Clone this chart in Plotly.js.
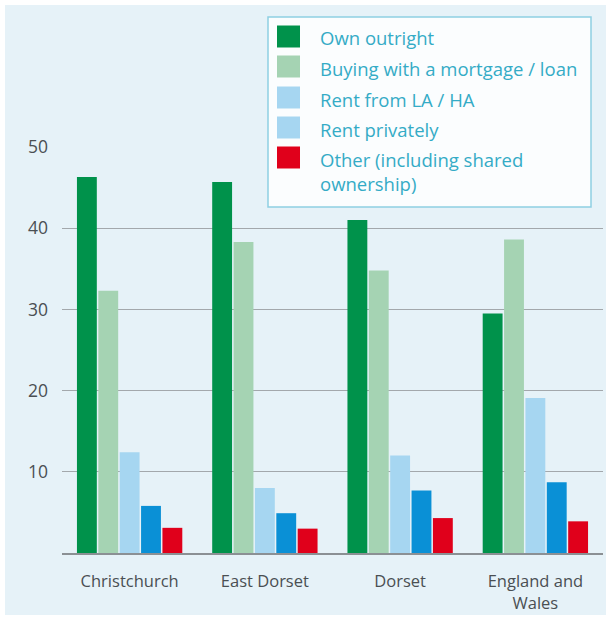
<!DOCTYPE html>
<html>
<head>
<meta charset="utf-8">
<script src="https://cdn.plot.ly/plotly-3.0.1.min.js"></script>
<style>
html,body{margin:0;padding:0;background:#ffffff;}
#chart{width:606px;height:617px;background:#e6f2f8;box-shadow:inset 5px 5px 0 #ffffff, inset 0 -2px 0 #ffffff;}
</style>
</head>
<body>
<div id="chart"></div>
<script>
// ---- data ----
const categories = ["Christchurch", "East Dorset", "Dorset", "England and<br>Wales"];
const seriesNames = ["Own outright", "Buying with a mortgage / loan", "Rent from LA / HA", "Rent privately", "Other (including shared<br>ownership)"];
const ownOutright = [46.3, 45.7, 41.0, 29.5];
const mortgage    = [32.3, 38.3, 34.8, 38.6];
const rentLA      = [12.4, 8.0, 12.0, 19.1];
const rentPrivate = [5.8, 4.9, 7.7, 8.7];
const other       = [3.1, 3.0, 4.3, 3.9];
const yTicks = [10, 20, 30, 40, 50];

const seriesValues = [ownOutright, mortgage, rentLA, rentPrivate, other];
const barColors = ["#00924b", "#a5d3b3", "#a6d6f1", "#0a90d6", "#e0001b"];
const legendColors = ["#00924b", "#a5d3b3", "#a6d6f1", "#a6d6f1", "#e0001b"];

const FONT = "Open Sans, Noto Sans, sans-serif";
const W = 606, H = 617;
const M = {l: 62, r: 3, t: 147, b: 64};
const pw = W - M.l - M.r, ph = H - M.t - M.b;
const px = p => (p - M.l) / pw;
const py = p => (H - M.b - p) / ph;

const traces = seriesValues.map((vals, i) => ({
  type: "bar",
  name: seriesNames[i],
  x: categories,
  y: vals,
  marker: {color: barColors[i], line: {width: 0}},
  showlegend: false,
  hoverinfo: "skip"
}));

// custom legend box (to reproduce the large square swatches)
const shapes = [{
  type: "rect", xref: "paper", yref: "paper",
  x0: px(268), x1: px(591), y0: py(207), y1: py(17),
  fillcolor: "#fbfdfe", line: {color: "#8fd0e2", width: 1.5}, layer: "above"
}];
const annotations = [];
const rowCenters = [36.5, 66.5, 97.5, 127.5, 157.5];
seriesNames.forEach((name, i) => {
  const c = rowCenters[i];
  shapes.push({
    type: "rect", xref: "paper", yref: "paper",
    x0: px(277), x1: px(300), y0: py(c + 11), y1: py(c - 11),
    fillcolor: legendColors[i], line: {width: 0}, layer: "above"
  });
  annotations.push({
    xref: "paper", yref: "paper", x: px(318), y: py(c - 13),
    xanchor: "left", yanchor: "top", align: "left",
    text: name, showarrow: false,
    font: {family: FONT, size: 18.5, color: "#34abc6"}
  });
});

const layout = {
  width: W, height: H,
  margin: M,
  paper_bgcolor: "rgba(0,0,0,0)",
  plot_bgcolor: "rgba(0,0,0,0)",
  barmode: "group",
  bargap: 0.21,
  bargroupgap: 0.07,
  font: {family: FONT, size: 16, color: "#4a4f53"},
  xaxis: {
    type: "category",
    showgrid: false,
    showline: true, linecolor: "#8b9094", linewidth: 1.5,
    ticks: "", ticklabelstandoff: 13,
    tickfont: {family: FONT, size: 16.5, color: "#4a4f53"},
    fixedrange: true
  },
  yaxis: {
    range: [0, 50],
    tickvals: yTicks,
    ticktext: yTicks.map(String),
    showgrid: true, gridcolor: "#a3a8ac", gridwidth: 1,
    zeroline: false, showline: false,
    ticks: "", ticklabelstandoff: 13,
    tickfont: {family: FONT, size: 17.5, color: "#4a4f53"},
    fixedrange: true
  },
  shapes: shapes,
  annotations: annotations
};

Plotly.newPlot("chart", traces, layout, {displayModeBar: false, staticPlot: true});
</script>
</body>
</html>
